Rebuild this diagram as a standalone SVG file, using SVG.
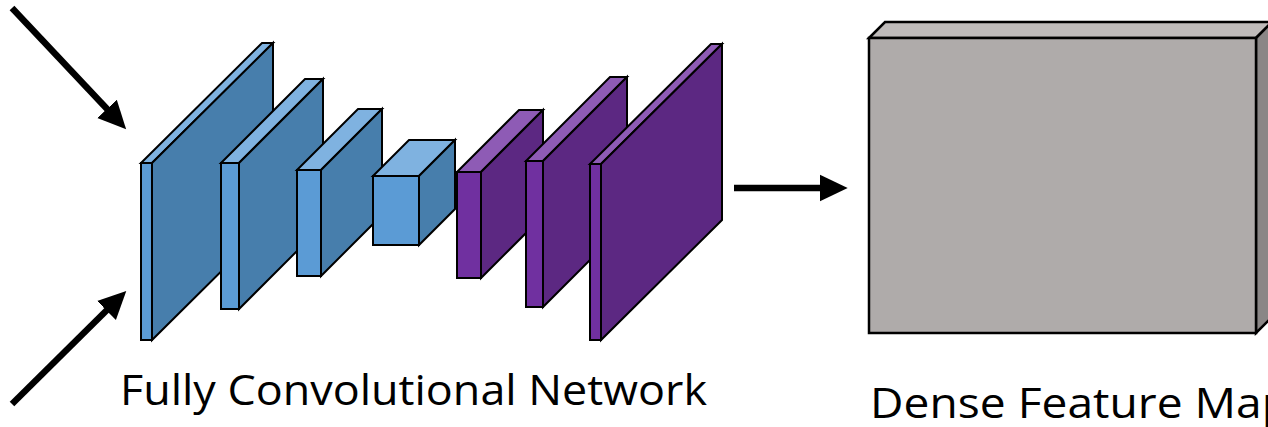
<svg xmlns="http://www.w3.org/2000/svg" width="1268" height="427" viewBox="0 0 1268 427">
  <style>
    .edge { stroke: #000; stroke-width: 2; stroke-linejoin: miter; }
    .bf { fill: #5B9BD5; }
    .bt { fill: #7FB2E0; }
    .bs { fill: #477EAC; }
    .pf { fill: #7030A0; }
    .pt { fill: #8E5BB5; }
    .ps { fill: #5C2882; }
    .gf { fill: #AFABAA; }
    .gt { fill: #BFBBBA; }
    .gs { fill: #8A8686; }
    .conn { stroke: #000; stroke-width: 6.5; fill: none; marker-end: url(#head); }
    .label { font-family: "Open Sans", "Noto Sans", sans-serif; font-size: 42px; fill: #000; }
  </style>
  <defs>
    <marker id="head" markerUnits="userSpaceOnUse" markerWidth="30" markerHeight="30" viewBox="0 -13 28 26" refX="2" refY="0" orient="auto">
      <path d="M0,-12.5 L26,0 L0,12.5 z" fill="#000"/>
    </marker>
  </defs>

  <!-- connectors -->
  <g id="connectors">
    <line class="conn" x1="12" y1="8" x2="108.5" y2="110.5"/>
    <line class="conn" x1="12" y1="404" x2="108" y2="309"/>
    <line class="conn" x1="734" y1="188" x2="822" y2="188"/>
  </g>

  <!-- encoder layers (blue) -->
  <g id="layer1" class="edge">
    <polygon class="bt" points="141,163 262,43 273,43 152,163"/>
    <polygon class="bs" points="152,163 273,43 273,220 152,340"/>
    <rect class="bf" x="141" y="163" width="11" height="177"/>
  </g>
  <g id="layer2" class="edge">
    <polygon class="bt" points="221,163 305,79 323,79 239,163"/>
    <polygon class="bs" points="239,163 323,79 323,225 239,309"/>
    <rect class="bf" x="221" y="163" width="18" height="146"/>
  </g>
  <g id="layer3" class="edge">
    <polygon class="bt" points="297,170 358,109 382,109 321,170"/>
    <polygon class="bs" points="321,170 382,109 382,215 321,276"/>
    <rect class="bf" x="297" y="170" width="24" height="106"/>
  </g>
  <g id="layer4" class="edge">
    <polygon class="bt" points="373,176 409,140 455,140 419,176"/>
    <polygon class="bs" points="419,176 455,140 455,209 419,245"/>
    <rect class="bf" x="373" y="176" width="46" height="69"/>
  </g>

  <!-- decoder layers (purple) -->
  <g id="layer5" class="edge">
    <polygon class="pt" points="457,172 519,110 543,110 481,172"/>
    <polygon class="ps" points="481,172 543,110 543,216 481,278"/>
    <rect class="pf" x="457" y="172" width="24" height="106"/>
  </g>
  <g id="layer6" class="edge">
    <polygon class="pt" points="526,161 610,77 627,77 543,161"/>
    <polygon class="ps" points="543,161 627,77 627,223 543,307"/>
    <rect class="pf" x="526" y="161" width="17" height="146"/>
  </g>
  <g id="layer7" class="edge">
    <polygon class="pt" points="590,164 711,44 722,44 601,164"/>
    <polygon class="ps" points="601,164 722,44 722,220 601,340"/>
    <rect class="pf" x="590" y="164" width="11" height="176"/>
  </g>

  <!-- output feature map -->
  <g id="feature-map" class="edge" style="stroke-width:2.5">
    <polygon class="gt" points="869,38 885,22 1272,22 1256,38"/>
    <polygon class="gs" points="1256,38 1272,22 1272,317 1256,333"/>
    <rect class="gf" x="869" y="38" width="387" height="295"/>
  </g>

  <!-- labels -->
  <g id="labels">
    <text class="label" x="120" y="405" textLength="587" lengthAdjust="spacingAndGlyphs">Fully Convolutional Network</text>
    <text class="label" x="870" y="418" textLength="420" lengthAdjust="spacingAndGlyphs">Dense Feature Map</text>
  </g>
</svg>
